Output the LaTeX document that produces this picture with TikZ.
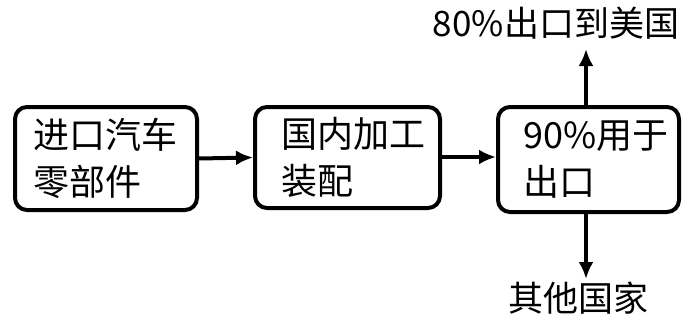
\documentclass[tikz,border=0pt]{standalone}
\usepackage{fontspec}
\setmainfont{Noto Sans CJK SC}
\usetikzlibrary{arrows.meta}
\begin{document}
\begin{tikzpicture}[x=1pt,y=1pt,
  box/.style={draw=black, line width=4pt, rounded corners=12pt, align=left,
    font=\fontsize{36}{47}\selectfont, inner sep=0pt},
  lbl/.style={font=\fontsize{35}{42}\selectfont, inner sep=0pt},
  arr/.style={line width=4pt, -{Latex[length=17pt,width=15pt]}}]
\useasboundingbox (0,0) rectangle (683,325);
\node[box, minimum width=182pt, minimum height=103pt] (b1) at (106,166.5) {进口汽车\\零部件};
\node[box, minimum width=185pt, minimum height=101pt] (b2) at (347.5,167.5) {\hspace*{11pt}国内加工\\\hspace*{11pt}装配};
\node[box, minimum width=181pt, minimum height=105pt] (b3) at (588.5,165.5) {\hspace*{15pt}90\%用于\\\hspace*{15pt}出口};
\coordinate (up) at (586,276);
\coordinate (dn) at (586,46);
\node[lbl] (t1) at (556,302) {80\%出口到美国};
\node[lbl] (t2) at (578,27) {其他国家};
\draw[arr] (b1.east) -- (b2.west);
\draw[arr] (b2.east |- 0,168) -- (b3.west |- 0,168);
\draw[arr] (b3.north -| up) -- (up);
\draw[arr] (b3.south -| dn) -- (dn);
\end{tikzpicture}
\end{document}
